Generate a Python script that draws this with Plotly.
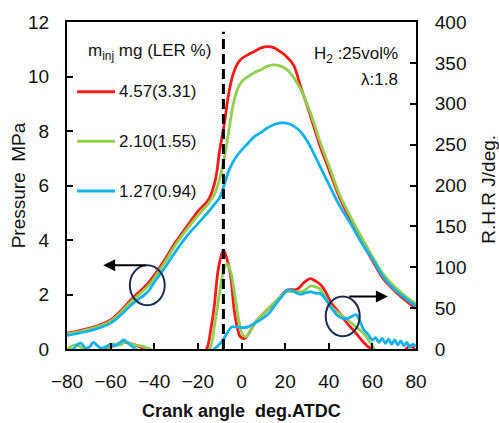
import plotly.graph_objects as go

# ---------------- data ----------------
series_names = ["4.57(3.31)", "2.10(1.55)", "1.27(0.94)"]
series_colors = ["#ff1a1a", "#8fd14f", "#12b3ec"]

p_angle = [-80, -70, -60, -50, -43, -40, -35, -30, -25, -20, -15, -12, -10, -8, -6, -4, -2, 0,
           3, 6, 9, 12, 15, 18, 21, 24, 27, 30, 33, 36, 40, 45, 50, 55, 60, 65, 70, 75, 80]
p_red = [0.58, 0.76, 1.07, 1.86, 2.4, 2.7, 3.3, 3.95, 4.5, 5.05, 5.5, 6.2, 7.3, 8.2, 9.3, 10.05, 10.45, 10.65,
         10.8, 10.92, 11.05, 11.1, 11.05, 10.9, 10.7, 10.4, 9.65, 8.95, 8.2, 7.45, 6.6, 5.55, 4.72, 3.95, 3.25, 2.58, 2.15, 1.8, 1.48]
p_green = [0.55, 0.72, 1.02, 1.78, 2.3, 2.6, 3.2, 3.85, 4.4, 4.9, 5.35, 5.75, 6.25, 6.95, 7.9, 8.9, 9.5, 9.8,
           10.0, 10.15, 10.25, 10.38, 10.43, 10.38, 10.24, 9.95, 9.55, 9.0, 8.35, 7.6, 6.75, 5.65, 4.85, 4.1, 3.4, 2.75, 2.3, 1.95, 1.65]
p_blue = [0.5, 0.66, 0.95, 1.65, 2.1, 2.45, 3.0, 3.6, 4.15, 4.6, 5.05, 5.35, 5.55, 6.0, 6.5, 6.85, 7.1, 7.3,
          7.55, 7.8, 7.95, 8.12, 8.24, 8.3, 8.28, 8.18, 7.98, 7.65, 7.2, 6.7, 6.05, 5.25, 4.6, 3.9, 3.3, 2.65, 2.2, 1.87, 1.58]

rhr_red_angle = [-80, -66, -62, -58, -54, -50, -46, -43, -30, -18, -16, -14, -12.5, -10.5, -8.3, -7, -5, -3.5, -2,
                 -0.5, 1.5, 4, 7, 10, 13, 16.5, 21, 25.5, 29, 31.5, 34, 36.5, 38.5, 41, 45, 48.6, 52, 55, 58, 60,
                 63, 70, 75, 77, 78.5, 80]
rhr_red = [-5, -3, 0, 5, 8, 6, 2, -3, -5, -4, 0, 25, 52, 100, 121, 113, 90, 51, 27,
           15, 13, 22, 35, 43, 51, 60, 72, 73, 82, 86, 83, 78, 70, 57, 44, 31, 21, 11, 3, 0,
           -3, -5, -1, 4, 2, -2]

rhr_green_angle = [-80, -78, -76, -73, -71, -66, -61, -59, -56, -53, -49, -45, -42, -40, -30, -16, -14.5, -12, -10,
                   -8, -6.6, -5, -3, -1, 0.5, 2, 4, 7, 10, 13, 17, 21, 25, 28.5, 31.5, 34, 36.5, 39, 41,
                   44, 48.6, 52, 56, 59, 61, 63, 80]
rhr_green = [-1, 3, 5, 1, -3, -3, 0, 6, 5, 8, 5, 3, 0, -4, -5, -3, 0, 35, 70,
             98, 104, 95, 65, 32, 18, 15, 22, 35, 43, 51, 62, 70, 70, 71, 77, 76, 72, 61, 52,
             45, 36, 28, 19, 8, 0, -3, -5]

rhr_blue_angle = [-80, -77, -75.5, -73.5, -71.5, -69.5, -68, -66, -64.5, -62, -60, -58, -56, -54, -52, -50, -48,
                  -46, -30, -14, -12.5, -10, -8, -6, -4.5, -2, 1, 3, 5, 7, 10, 13, 16, 19, 21, 22.5, 25, 27,
                  29.5, 32, 34, 36, 38, 41, 44, 46, 48, 50, 52.5, 54, 56, 58, 60, 61.5, 63, 64.5, 66, 67.4,
                  68.8, 70.2, 71.6, 73, 74.4, 75.8, 77.2, 78.6, 80]
rhr_blue = [-3, 0, 5, 7, 1, 3, 8, 4, 1, 3, 6, 4, 7, 11, 7, 3, -1,
            -4, -5, -3, 0, 6, 13, 22, 27, 27, 26, 27, 30, 33, 38, 45, 56, 66, 72, 72, 69, 67,
            69, 70, 68, 68, 63, 51, 41, 38, 37, 39, 42, 36, 24, 18, 11, 14, 8, 13, 7, 12,
            6, 11, 5, 10, 4, 8, 2, 6, 3]

legend_title = "m<sub>inj</sub> mg (LER %)"
condition_lines = ["H<sub>2</sub> :25vol%", "λ:1.8"]
x_ticks = [-80, -60, -40, -20, 0, 20, 40, 60, 80]
y_ticks = [0, 2, 4, 6, 8, 10, 12]
y2_ticks = [0, 50, 100, 150, 200, 250, 300, 350, 400]
ignition_angle = -8.3

FONT = "Liberation Sans, Arial, sans-serif"

fig = go.Figure()

pressure = [p_red, p_green, p_blue]
rhr_x = [rhr_red_angle, rhr_green_angle, rhr_blue_angle]
rhr_y = [rhr_red, rhr_green, rhr_blue]

for i in range(3):
    fig.add_trace(go.Scatter(x=p_angle, y=pressure[i], mode="lines", name=series_names[i],
                             line=dict(color=series_colors[i], width=2.8, shape="spline"),
                             showlegend=False, yaxis="y"))
for i in range(3):
    fig.add_trace(go.Scatter(x=rhr_x[i], y=rhr_y[i], mode="lines", name=series_names[i],
                             line=dict(color=series_colors[i], width=2.8, shape="spline"),
                             showlegend=False, yaxis="y2"))

axis_common = dict(showline=True, linecolor="black", linewidth=2, ticks="inside", ticklen=6,
                   tickwidth=1.5, tickcolor="black", showgrid=False, zeroline=False,
                   tickfont=dict(family=FONT, size=19, color="#111"))

fig.update_layout(
    width=499, height=423,
    margin=dict(l=67, r=83, t=20, b=74),
    paper_bgcolor="white", plot_bgcolor="white",
    xaxis=dict(range=[-80, 80], tickvals=x_ticks, mirror=True, ticklabelstandoff=14, **axis_common),
    yaxis=dict(range=[0, 12], tickvals=y_ticks, ticklabelstandoff=12, **axis_common),
    yaxis2=dict(range=[0, 400], tickvals=y2_ticks, overlaying="y", side="right",
                ticklabelstandoff=13, **axis_common),
)

# ignition / reference dashed line
fig.add_shape(type="line", xref="x", yref="paper", x0=ignition_angle, x1=ignition_angle,
              y0=0, y1=0.97, line=dict(color="black", width=3, dash="10px,5px"), layer="above")

# circles
fig.add_shape(type="circle", xref="x", yref="y", x0=-51.2, x1=-35.2, y0=1.61, y1=3.07,
              line=dict(color="#1b2a4e", width=2))
fig.add_shape(type="circle", xref="x", yref="y", x0=38.6, x1=54.2, y0=0.47, y1=1.93,
              line=dict(color="#1b2a4e", width=2))
# arrows
fig.add_annotation(x=-63.4, y=3.07, ax=-43.2, ay=3.07, xref="x", yref="y", axref="x", ayref="y",
                   showarrow=True, arrowhead=2, arrowsize=1.2, arrowwidth=2, arrowcolor="black", text="")
fig.add_annotation(x=67.1, y=1.93, ax=48.7, ay=1.93, xref="x", yref="y", axref="x", ayref="y",
                   showarrow=True, arrowhead=2, arrowsize=1.2, arrowwidth=2, arrowcolor="black", text="")

# manual legend
fig.add_annotation(x=0.236, y=0.909, xref="paper", yref="paper", text=legend_title, showarrow=False,
                   font=dict(family=FONT, size=17, color="#111"), xanchor="center", yanchor="middle")
leg_y = [0.787, 0.635, 0.483]
for i in range(3):
    fig.add_shape(type="line", xref="paper", yref="paper", x0=0.029, x1=0.1375, y0=leg_y[i], y1=leg_y[i],
                  line=dict(color=series_colors[i], width=3))
    fig.add_annotation(x=0.143, y=leg_y[i], xref="paper", yref="paper", text=series_names[i],
                       showarrow=False, font=dict(family=FONT, size=17, color="#111"),
                       xanchor="left", yanchor="middle")

# conditions
fig.add_annotation(x=0.954, y=0.90, xref="paper", yref="paper", text=condition_lines[0], showarrow=False,
                   font=dict(family=FONT, size=17, color="#111"), xanchor="right", yanchor="middle")
fig.add_annotation(x=0.954, y=0.824, xref="paper", yref="paper", text=condition_lines[1], showarrow=False,
                   font=dict(family=FONT, size=17, color="#111"), xanchor="right", yanchor="middle")

# axis titles
fig.add_annotation(x=-0.138, y=0.50, xref="paper", yref="paper", text="Pressure  MPa", textangle=-90,
                   showarrow=False, font=dict(family=FONT, size=19, color="#111"),
                   xanchor="center", yanchor="middle")
fig.add_annotation(x=1.209, y=0.49, xref="paper", yref="paper", text="R.H.R J/deg.", textangle=-90,
                   showarrow=False, font=dict(family=FONT, size=19, color="#111"),
                   xanchor="center", yanchor="middle")
fig.add_annotation(x=0.5, y=-0.191, xref="paper", yref="paper", text="<b>Crank angle  deg.ATDC</b>",
                   showarrow=False, font=dict(family=FONT, size=18, color="#111"),
                   xanchor="center", yanchor="middle")

fig.write_html("out.html")
